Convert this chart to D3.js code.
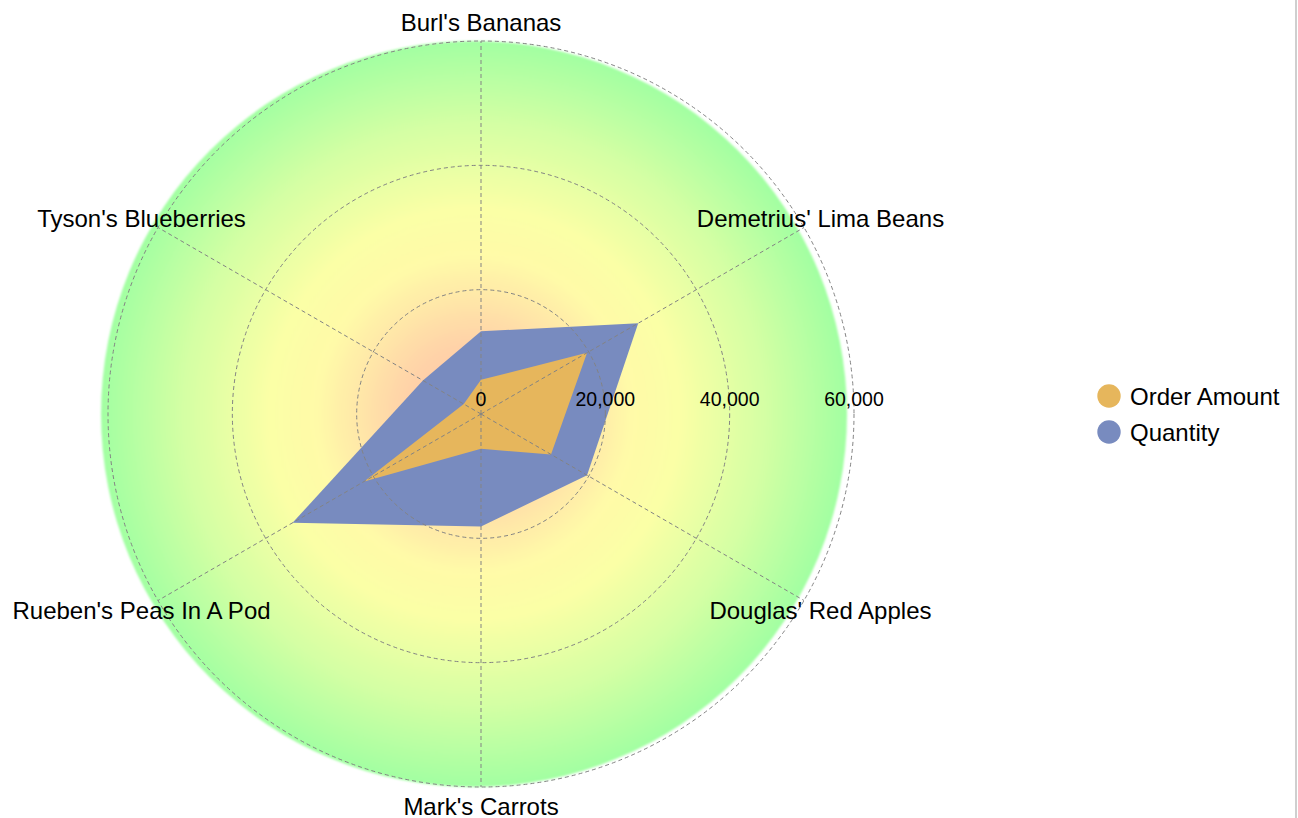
<!DOCTYPE html>
<html>
<head>
<meta charset="utf-8">
<script src="https://cdn.jsdelivr.net/npm/d3@7"></script>
<style>
  html, body { margin: 0; padding: 0; background: #fff; overflow: hidden; }
  svg { display: block; font-family: "Liberation Sans", Arial, sans-serif; }
</style>
</head>
<body>
<svg id="chart" width="1298" height="818"></svg>
<script>
const categories = ["Burl's Bananas", "Demetrius' Lima Beans", "Douglas' Red Apples", "Mark's Carrots", "Rueben's Peas In A Pod", "Tyson's Blueberries"];
const orderAmount = [5500, 19700, 13000, 5600, 21700, 3200];
const quantity = [13300, 29200, 19700, 18100, 35000, 10800];
const tickValues = [0, 20000, 40000, 60000];
const seriesNames = ["Order Amount", "Quantity"];
const seriesColors = ["#e6b65c", "#788bbf"];

const svg = d3.select("#chart");
const cx = 481, cy = 414, R = 373;

const r = d3.scaleLinear().domain([0, 60000]).range([0, R]);
const angle = d3.scalePoint().domain(categories.concat(["__end"])).range([0, 2 * Math.PI]);

const defs = svg.append("defs");
const grad = defs.append("radialGradient").attr("id", "bg").attr("cx", "50%").attr("cy", "50%").attr("r", "50%");
[[0, "#ffbca8"], [0.2, "#ffd4a8"], [0.42, "#fffaa8"], [0.55, "#fbffa6"], [0.78, "#d4ffa4"], [1, "#a2ffa2"]]
  .forEach(([o, c]) => grad.append("stop").attr("offset", o).attr("stop-color", c));
defs.append("filter").attr("id", "soft").attr("x", "-5%").attr("y", "-5%").attr("width", "110%").attr("height", "110%")
  .append("feGaussianBlur").attr("stdDeviation", 1);

// right edge line
svg.append("rect").attr("x", 1295).attr("y", 0).attr("width", 2).attr("height", 818).attr("fill", "#cfcfcf");

// gradient background disk
svg.append("circle").attr("cx", cx - 7).attr("cy", cy).attr("r", R)
  .attr("fill", "url(#bg)").attr("filter", "url(#soft)");

const g = svg.append("g").attr("transform", `translate(${cx},${cy})`);

const line = d3.lineRadial()
  .angle((d, i) => angle(categories[i]))
  .radius(d => r(d))
  .curve(d3.curveLinearClosed);

g.append("path").datum(quantity).attr("d", line).attr("fill", seriesColors[1]);
g.append("path").datum(orderAmount).attr("d", line).attr("fill", seriesColors[0]);

// grid circles
g.selectAll(".grid").data(tickValues.slice(1)).join("circle")
  .attr("r", d => r(d)).attr("fill", "none")
  .attr("stroke", "#838383").attr("stroke-width", 1).attr("stroke-dasharray", "4,3");

// axes
g.selectAll(".axis").data(categories).join("line")
  .attr("x1", 0).attr("y1", 0)
  .attr("x2", d => r(60000) * Math.sin(angle(d)))
  .attr("y2", d => -r(60000) * Math.cos(angle(d)))
  .attr("stroke", "#838383").attr("stroke-width", 1).attr("stroke-dasharray", "4,3");

// tick labels
g.selectAll(".tick").data(tickValues).join("text")
  .attr("x", d => r(d)).attr("y", -15)
  .attr("text-anchor", "middle").attr("dominant-baseline", "central")
  .attr("font-size", "19.5px").attr("fill", "#000")
  .text(d => d3.format(",")(d));

// category labels
const LR = 392;
g.selectAll(".cat").data(categories).join("text")
  .attr("x", d => LR * Math.sin(angle(d)))
  .attr("y", d => -LR * Math.cos(angle(d)))
  .attr("text-anchor", "middle").attr("dominant-baseline", "central")
  .attr("font-size", "24px").attr("fill", "#000")
  .text(d => d);

// legend
const leg = svg.append("g").attr("transform", "translate(1109,396)");
const items = leg.selectAll("g").data(seriesNames).join("g")
  .attr("transform", (d, i) => `translate(0,${i * 36})`);
items.append("circle").attr("r", 11.7).attr("fill", (d, i) => seriesColors[i]);
items.append("text").attr("x", 21).attr("y", 0).attr("dominant-baseline", "central")
  .attr("font-size", "24px").attr("fill", "#000").text(d => d);
</script>
</body>
</html>
